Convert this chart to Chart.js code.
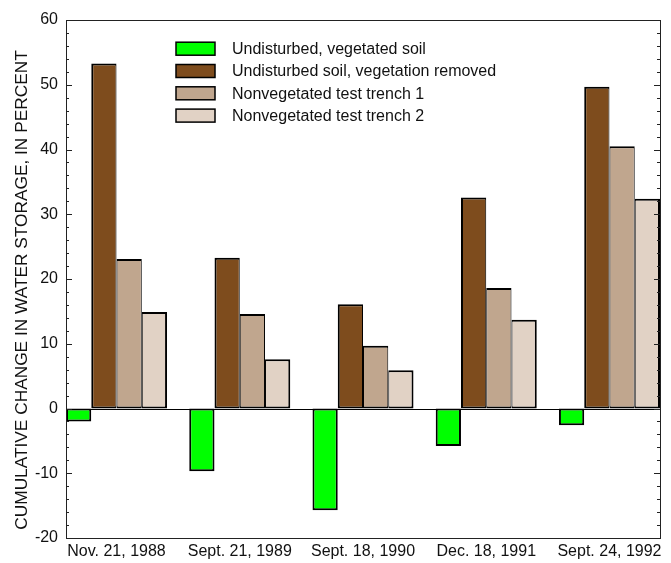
<!DOCTYPE html>
<html>
<head>
<meta charset="utf-8">
<script src="https://cdn.jsdelivr.net/npm/chart.js@4/dist/chart.umd.min.js"></script>
<style>
  html, body { margin: 0; padding: 0; background: #fff; }
  #wrap { width: 671px; height: 563px; }
</style>
</head>
<body>
<div id="wrap"><canvas id="c" width="671" height="563"></canvas></div>
<script>
const categories = ["Nov. 21, 1988", "Sept. 21, 1989", "Sept. 18, 1990", "Dec. 18, 1991", "Sept. 24, 1992"];
const seriesNames = ["Undisturbed, vegetated soil", "Undisturbed soil, vegetation removed", "Nonvegetated test trench 1", "Nonvegetated test trench 2"];
const vegetatedSoil = [-2.0, -9.7, -15.7, -5.8, -2.6];
const vegetationRemoved = [53.3, 23.3, 16.1, 32.6, 49.7];
const trench1 = [23.1, 14.6, 9.7, 18.6, 40.5];
const trench2 = [14.9, 7.6, 5.9, 13.7, 32.4];
const yTicks = [-20, -10, 0, 10, 20, 30, 40, 50, 60];
const yTitle = "CUMULATIVE CHANGE IN WATER STORAGE, IN PERCENT";

const colors = ["#00FF00", "#7E4C1D", "#C0A68E", "#E1D2C5"];
const seriesValues = [vegetatedSoil, vegetationRemoved, trench1, trench2];
const borders = [
  {top: 2, bottom: 2, left: 2, right: 2},
  {top: 2, bottom: 2, left: 2, right: 1},
  {top: 2, bottom: 2, left: 1, right: 1},
  {top: 2, bottom: 2, left: 1, right: 2}
];

const FONT = "'Liberation Sans', Arial, sans-serif";

const datasets = seriesValues.map((vals, k) => ({
  label: seriesNames[k],
  data: vals.map((v, i) => ({x: i, y: v})),
  backgroundColor: colors[k],
  borderColor: "#000",
  borderWidth: borders[k],
  borderSkipped: false,
  categoryPercentage: 0.82,
  barPercentage: 1.0
}));

const framePlugin = {
  id: 'frame',
  afterDatasetsDraw(chart) {
    const {ctx, chartArea: a, scales} = chart;
    const y = scales.y;
    ctx.save();
    ctx.strokeStyle = "#000";
    ctx.lineWidth = 1;
    const y0 = Math.round(y.getPixelForValue(0)) + 0.5;
    ctx.beginPath();
    ctx.moveTo(a.left, y0);
    ctx.lineTo(a.right, y0);
    ctx.stroke();
    ctx.strokeStyle = "#222";
    ctx.lineWidth = 1;
    ctx.strokeRect(Math.round(a.left) + 0.5, Math.round(a.top) + 0.5,
                   Math.round(a.right - a.left), Math.round(a.bottom - a.top));
    ctx.beginPath();
    for (let v = yTicks[0]; v <= yTicks[yTicks.length - 1]; v += 2) {
      const py = Math.round(y.getPixelForValue(v)) + 0.5;
      const len = (v % 10 === 0) ? 6 : 3;
      ctx.moveTo(a.left, py); ctx.lineTo(a.left + len, py);
      ctx.moveTo(a.right, py); ctx.lineTo(a.right - len, py);
    }
    ctx.stroke();
    ctx.restore();
  },
  afterDraw(chart) {
    const {ctx} = chart;
    ctx.save();
    const bx = 176, bw = 39, bh = 13, tx = 232, y0 = 48.7, dy = 22.3;
    ctx.font = "16px " + FONT;
    ctx.textBaseline = "middle";
    ctx.textAlign = "left";
    chart.data.datasets.forEach((ds, k) => {
      const cy = y0 + k * dy;
      ctx.fillStyle = ds.backgroundColor;
      ctx.fillRect(bx, cy - bh / 2, bw, bh);
      ctx.strokeStyle = "#000";
      ctx.lineWidth = 1.5;
      ctx.strokeRect(bx, cy - bh / 2, bw, bh);
      ctx.fillStyle = "#111";
      ctx.fillText(ds.label, tx, cy + 1);
    });
    // y axis title
    ctx.translate(22, 290);
    ctx.rotate(-Math.PI / 2);
    ctx.font = "17.3px " + FONT;
    ctx.textAlign = "center";
    ctx.textBaseline = "middle";
    ctx.fillStyle = "#111";
    ctx.fillText(yTitle, 0, 0);
    ctx.restore();
  }
};

new Chart(document.getElementById('c'), {
  type: 'bar',
  data: { datasets },
  options: {
    responsive: false,
    animation: false,
    layout: { padding: { top: 20, right: 11, bottom: 0, left: 0 } },
    plugins: { legend: { display: false }, tooltip: { enabled: false } },
    scales: {
      x: {
        type: 'linear',
        min: -0.41,
        max: 4.41,
        offset: false,
        bounds: 'data',
        grid: { display: false, drawTicks: false },
        border: { display: false },
        afterBuildTicks(scale) {
          scale.ticks = categories.map((c, i) => ({ value: i }));
        },
        ticks: {
          autoSkip: false,
          maxRotation: 0,
          minRotation: 0,
          padding: 4,
          color: "#111",
          font: { family: FONT, size: 16 },
          callback: (v) => categories[Math.round(v)]
        },
        afterFit(scale) { scale.height = 25; }
      },
      y: {
        min: yTicks[0],
        max: yTicks[yTicks.length - 1],
        grid: { display: false, drawTicks: false },
        border: { display: false },
        ticks: {
          stepSize: 10,
          padding: 8,
          color: "#111",
          font: { family: FONT, size: 16 }
        },
        afterFit(scale) { scale.width = 66; }
      }
    }
  },
  plugins: [framePlugin]
});
</script>
</body>
</html>
